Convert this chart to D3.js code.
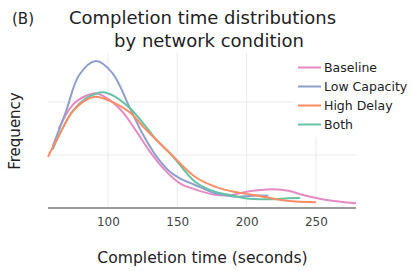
<!DOCTYPE html>
<html>
<head>
<meta charset="utf-8">
<script src="https://cdn.jsdelivr.net/npm/d3@7"></script>
<style>
  html, body { margin: 0; padding: 0; background: #fff; }
  svg { display: block; font-family: "DejaVu Sans", Verdana, sans-serif; }
</style>
</head>
<body>
<svg id="chart" width="412" height="271"></svg>
<script>
// ---- Data (density in units of 1e-3) ----
const seriesNames = ["Baseline", "Low Capacity", "High Delay", "Both"];
const seriesColors = ["#e78ac3", "#8da0cb", "#fc8d62", "#66c2a5"];

const baselineTime = [64.4, 74.5, 84.1, 91.3, 101.4, 111.0, 120.7, 130.3, 139.9, 151.9, 162.8, 177.2, 186.0, 191.6, 200.1, 210.0, 219.3, 230.0, 240.8, 257.8, 278.9];
const baselineDensity = [7.45, 9.71, 10.59, 10.82, 10.18, 9.00, 7.20, 5.31, 3.74, 2.33, 1.76, 1.25, 1.20, 1.28, 1.54, 1.70, 1.76, 1.62, 1.23, 0.75, 0.44];

const lowCapTime = [60.1, 69.7, 79.3, 91.3, 103.4, 115.9, 125.5, 135.1, 144.7, 151.9, 162.8, 177.2, 191.6, 198.8, 207.0, 215.7];
const lowCapDensity = [5.78, 9.08, 12.54, 13.86, 12.70, 9.40, 6.88, 4.84, 3.42, 2.80, 2.17, 1.39, 1.07, 1.10, 1.18, 1.16];

const highDelayTime = [56.8, 64.9, 74.5, 84.1, 91.3, 101.4, 115.9, 125.5, 135.1, 146.0, 162.8, 177.2, 191.6, 204.8, 229.0, 250.1];
const highDelayDensity = [4.84, 6.88, 9.08, 10.18, 10.50, 10.10, 9.00, 7.67, 6.41, 5.00, 2.95, 2.01, 1.50, 1.23, 0.69, 0.54];

const bothTime = [60.1, 64.9, 74.5, 84.1, 91.3, 96.2, 104.5, 115.9, 125.5, 135.1, 146.0, 162.8, 177.2, 191.6, 198.8, 216.9, 230.0, 238.5];
const bothDensity = [5.50, 6.90, 9.15, 10.35, 10.78, 10.91, 10.55, 9.40, 7.99, 6.41, 5.00, 2.48, 1.54, 1.13, 0.91, 0.82, 0.92, 0.94];

const xTicks = [100, 150, 200, 250];
const yGrid = [5, 10];

const titleLines = ["Completion time distributions", "by network condition"];
const panelLabel = "(B)";
const xLabel = "Completion time (seconds)";
const yLabel = "Frequency";

// ---- Build series ----
const series = [
  {name: seriesNames[0], color: seriesColors[0], t: baselineTime, d: baselineDensity},
  {name: seriesNames[1], color: seriesColors[1], t: lowCapTime, d: lowCapDensity},
  {name: seriesNames[2], color: seriesColors[2], t: highDelayTime, d: highDelayDensity},
  {name: seriesNames[3], color: seriesColors[3], t: bothTime, d: bothDensity}
].map(s => ({...s, pts: s.t.map((t, i) => [t, s.d[i]])}));

// ---- Layout ----
const plot = {left: 48, right: 356, top: 53, bottom: 208};
const allT = series.flatMap(s => s.t);
const x = d3.scaleLinear().domain(d3.extent(allT)).range([plot.left, plot.right]);
const y = d3.scaleLinear().domain([0, 14.62]).range([plot.bottom, plot.top]);

const svg = d3.select("#chart");

// gridlines
svg.append("g").selectAll("line").data(xTicks).join("line")
  .attr("x1", d => x(d)).attr("x2", d => x(d))
  .attr("y1", plot.top).attr("y2", plot.bottom)
  .attr("stroke", "#ebebeb").attr("stroke-width", 1);
svg.append("g").selectAll("line").data(yGrid).join("line")
  .attr("x1", plot.left).attr("x2", plot.right)
  .attr("y1", d => y(d)).attr("y2", d => y(d))
  .attr("stroke", "#ebebeb").attr("stroke-width", 1);

// x axis
const xAxis = d3.axisBottom(x).tickValues(xTicks).tickSize(0).tickPadding(10);
const gx = svg.append("g").attr("transform", `translate(0,${plot.bottom})`).call(xAxis);
gx.select(".domain").remove();
gx.selectAll("text").attr("font-size", 12).attr("fill", "#444")
  .attr("font-family", "DejaVu Sans, sans-serif").attr("dy", "0.7em");

// lines (Both beneath High Delay)
const line = d3.line().curve(d3.curveCatmullRom.alpha(0.5)).x(d => x(d[0])).y(d => y(d[1]));
const drawOrder = [0, 1, 3, 2];
svg.append("g").selectAll("path").data(drawOrder.map(i => series[i])).join("path")
  .attr("d", d => line(d.pts))
  .attr("fill", "none")
  .attr("stroke", d => d.color)
  .attr("stroke-width", 2)
  .attr("stroke-linejoin", "round");

// axis line (zero line)
svg.append("line")
  .attr("x1", plot.left).attr("x2", plot.right)
  .attr("y1", y(0)).attr("y2", y(0))
  .attr("stroke", "#9a9a9a").attr("stroke-width", 2);

// legend
const legend = svg.append("g");
legend.append("rect").attr("x", 294).attr("y", 50).attr("width", 118).attr("height", 87).attr("fill", "#fff");
const li = legend.selectAll("g.item").data(series).join("g").attr("class", "item")
  .attr("transform", (d, i) => `translate(298,${67.5 + i * 19})`);
li.append("line").attr("x1", 0).attr("x2", 23).attr("y1", 0).attr("y2", 0)
  .attr("stroke", d => d.color).attr("stroke-width", 2);
li.append("text").attr("x", 26).attr("y", 0).attr("dy", "0.35em")
  .attr("font-size", 12.5).attr("fill", "#222").text(d => d.name);

// titles
svg.append("text").attr("x", 12).attr("y", 24).attr("font-size", 15).attr("fill", "#222").text(panelLabel);
svg.append("g").selectAll("text").data(titleLines).join("text")
  .attr("x", (d, i) => i === 0 ? 202.5 : 209)
  .attr("y", (d, i) => 24 + i * 23)
  .attr("text-anchor", "middle").attr("font-size", 18).attr("fill", "#222")
  .text(d => d);

svg.append("text").attr("x", 202.5).attr("y", 263).attr("text-anchor", "middle")
  .attr("font-size", 15.6).attr("fill", "#222").text(xLabel);
svg.append("text").attr("transform", "translate(20,131) rotate(-90)")
  .attr("text-anchor", "middle").attr("font-size", 15).attr("fill", "#222").text(yLabel);
</script>
</body>
</html>
